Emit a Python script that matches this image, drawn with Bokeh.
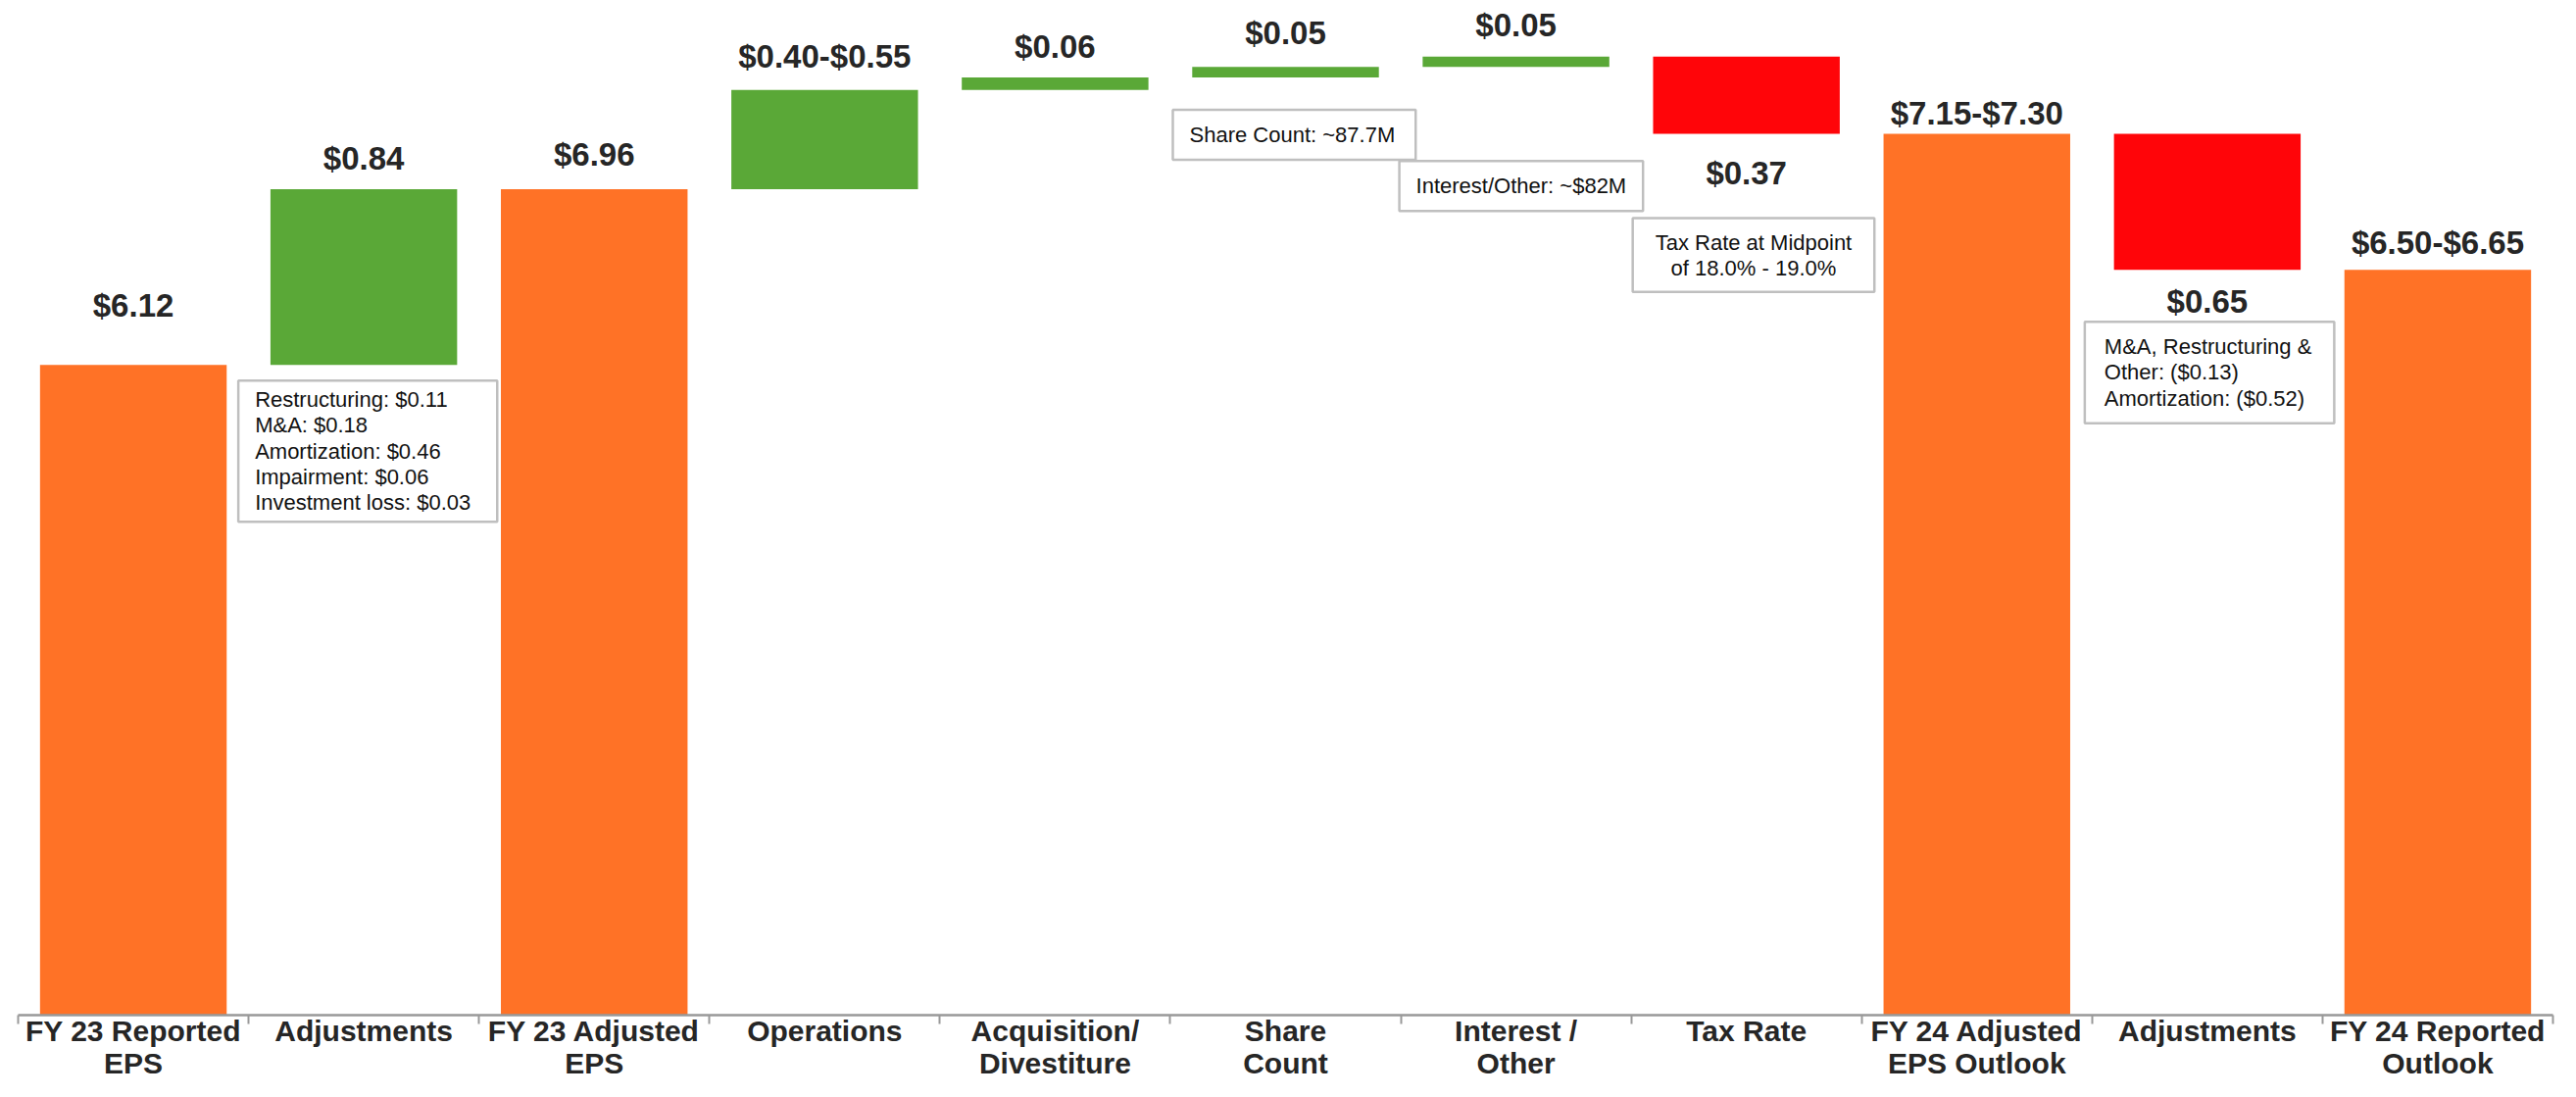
import numpy as np
from bokeh.plotting import figure
from bokeh.models import ColumnDataSource, Range1d, FixedTicker, Label
from bokeh.core.properties import value
from bokeh.embed import file_html
from bokeh.resources import INLINE

# ---------------- data ----------------
categories = [
    "FY 23 Reported\nEPS", "Adjustments", "FY 23 Adjusted\nEPS", "Operations",
    "Acquisition/\nDivestiture", "Share\nCount", "Interest /\nOther", "Tax Rate",
    "FY 24 Adjusted\nEPS Outlook", "Adjustments", "FY 24 Reported\nOutlook",
]
step_kind = ["total", "up", "total", "up", "up", "up", "up", "down", "total", "down", "total"]
amounts = [6.12, 0.84, 6.96, 0.475, 0.06, 0.05, 0.05, 0.37, 7.225, 0.65, 6.575]
value_labels = ["$6.12", "$0.84", "$6.96", "$0.40-$0.55", "$0.06", "$0.05", "$0.05",
                "$0.37", "$7.15-$7.30", "$0.65", "$6.50-$6.65"]

note_at = [1, 5, 6, 7, 9]
note_texts = [
    "Restructuring: $0.11\nM&A: $0.18\nAmortization: $0.46\nImpairment: $0.06\nInvestment loss: $0.03",
    "Share Count: ~87.7M",
    "Interest/Other: ~$82M",
    "Tax Rate at Midpoint\nof 18.0% - 19.0%",
    "M&A, Restructuring &\nOther: ($0.13)\nAmortization: ($0.52)",
]

# ---------------- layout / style ----------------
Y_START, Y_END = 3.01, 7.863
label_gap_px = [61, 32, 36, 34, 31, 35, 32, 40, 21, 32, 28]
note_gap_px = [16, 33, 96, 86, 53]
note_left_px = [-128, -115, -119, -116, -125]
note_align = ["left", "left", "left", "center", "left"]
note_pad = [
    dict(left=17, right=27, top=7, bottom=7),
    dict(left=17, right=21, top=13, bottom=13),
    dict(left=17, right=17, top=13, bottom=13),
    dict(left=23, right=23, top=12, bottom=12),
    dict(left=20, right=23, top=13, bottom=13),
]
kind_color = {"total": "#FF7226", "up": "#5AA837", "down": "#FF0509"}
FONT = "Liberation Sans"
TEXT_DARK = "#262626"

# ---------------- waterfall geometry from data ----------------
xs = [int(i) for i in np.arange(len(categories))]
bottoms, tops = [], []
running = 0.0
for kind, amt in zip(step_kind, amounts):
    if kind == "total":
        b, t = 0.0, amt
        running = amt
    elif kind == "up":
        b, t = running, running + amt
        running = t
    else:
        b, t = running - amt, running
        running = b
    bottoms.append(b)
    tops.append(t)

label_y = [b if k == "down" else t for k, b, t in zip(step_kind, bottoms, tops)]
label_off = [g if k == "down" else -g for k, g in zip(step_kind, label_gap_px)]
colors = [kind_color[k] for k in step_kind]

bars = ColumnDataSource(dict(x=xs, bottom=bottoms, top=tops, color=colors))
labels = ColumnDataSource(dict(x=xs, y=label_y, text=value_labels, yoff=label_off))

p = figure(
    width=2612, height=1103,
    x_range=Range1d(-0.5, len(categories) - 0.5),
    y_range=Range1d(Y_START, Y_END),
    output_backend="svg", toolbar_location=None,
    y_axis_location=None,
    min_border_left=18, min_border_right=8, min_border_top=0, min_border_bottom=0,
    outline_line_color=None, background_fill_color="white",
)
p.xgrid.visible = False
p.ygrid.visible = False

p.vbar(x="x", width=0.81, bottom="bottom", top="top", fill_color="color",
       line_color=None, source=bars)

p.text(x="x", y="y", text="text", y_offset="yoff", source=labels,
       text_align="center", text_baseline="middle",
       text_font=value(FONT), text_font_style="bold",
       text_font_size="33px", text_color=TEXT_DARK)

for i, txt, gap, left, align, pad in zip(note_at, note_texts, note_gap_px,
                                          note_left_px, note_align, note_pad):
    p.add_layout(Label(
        x=xs[i], y=bottoms[i], x_offset=left, y_offset=-gap,
        text=txt, anchor="top_left", text_align=align,
        text_font=FONT, text_font_size="22px", text_color="#111111",
        text_line_height=1.05,
        padding=pad,
        background_fill_color="white", background_fill_alpha=1.0,
        border_line_color="#BFBFBF", border_line_width=2.5,
    ))

ax = p.xaxis[0]
ax.ticker = FixedTicker(ticks=xs,
                        minor_ticks=[float(v) for v in np.arange(-0.5, len(categories), 1.0)])
ax.major_label_overrides = {i: c for i, c in zip(xs, categories)}
ax.axis_label = None
ax.axis_label_standoff = 0
ax.major_tick_line_color = None
ax.major_tick_out = 0
ax.major_tick_in = 0
ax.minor_tick_out = 9
ax.minor_tick_in = 0
ax.minor_tick_line_color = "#999999"
ax.minor_tick_line_width = 2
ax.axis_line_color = "#999999"
ax.axis_line_width = 2.5
ax.major_label_text_font = FONT
ax.major_label_text_font_style = "bold"
ax.major_label_text_font_size = "30px"
ax.major_label_text_color = TEXT_DARK
ax.major_label_text_line_height = 1.0
ax.major_label_standoff = -10

open("out.html", "w").write(file_html(p, INLINE, title="EPS bridge"))
